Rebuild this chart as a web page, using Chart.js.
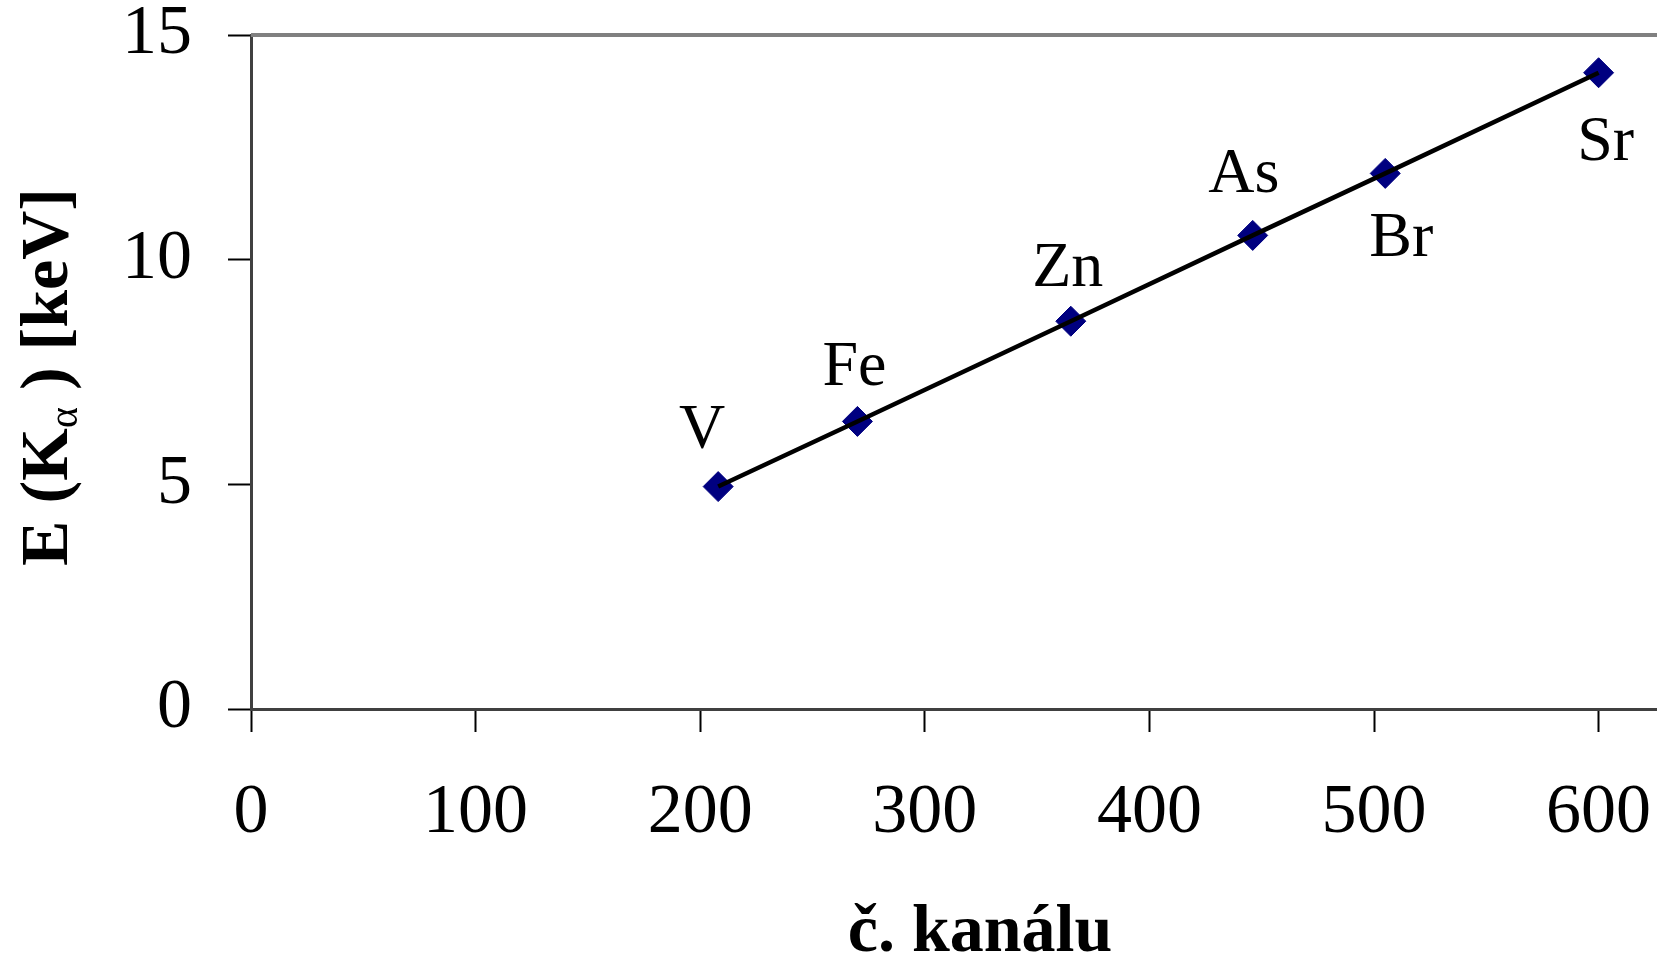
<!DOCTYPE html>
<html>
<head>
<meta charset="utf-8">
<script src="https://cdn.jsdelivr.net/npm/chart.js@4/dist/chart.umd.min.js"></script>
<style>
    body { margin: 0; background: #fff; overflow: hidden; }
    canvas { display: block; }
</style>
</head>
<body>
<canvas id="myChart" width="1657" height="957"></canvas>
<script>
// data
const elements = ['V', 'Fe', 'Zn', 'As', 'Br', 'Sr'];
const channels = [208, 270, 365, 446, 505, 600];
const energies = [4.95, 6.40, 8.63, 10.54, 11.92, 14.16];
const xTicks = [0, 100, 200, 300, 400, 500, 600];
const yTicks = [0, 5, 10, 15];

const xTitle = 'č. kanálu';
const serif = "'Liberation Serif', 'Times New Roman', serif";

// label offsets from each point (px), element label baseline
const labelOffsets = [[-16, -39], [-3, -36], [-3, -35], [-9, -43], [16, 83], [7, 87]];

const points = channels.map((x, i) => ({ x: x, y: energies[i] }));

// element names next to the markers
const pointLabels = {
    id: 'pointLabels',
    afterDatasetsDraw(chart) {
        const ctx = chart.ctx;
        const xs = chart.scales.x, ys = chart.scales.y;
        ctx.save();
        ctx.font = '64px ' + serif;
        ctx.fillStyle = '#000';
        ctx.textAlign = 'center';
        ctx.textBaseline = 'alphabetic';
        for (let i = 0; i < elements.length; i++) {
            const px = xs.getPixelForValue(channels[i]);
            const py = ys.getPixelForValue(energies[i]);
            ctx.fillText(elements[i], px + labelOffsets[i][0], py + labelOffsets[i][1]);
        }
        ctx.restore();
    }
};

// top border of the plot area + axis titles (y one has a subscript alpha)
const frameAndTitles = {
    id: 'frameAndTitles',
    beforeDatasetsDraw(chart) {
        const ctx = chart.ctx;
        const a = chart.chartArea;
        ctx.save();
        ctx.strokeStyle = '#808080';
        ctx.lineWidth = 4;
        ctx.beginPath();
        ctx.moveTo(a.left, a.top);
        ctx.lineTo(a.right, a.top);
        ctx.stroke();
        ctx.restore();
    },
    afterDraw(chart) {
        const ctx = chart.ctx;
        const a = chart.chartArea;
        ctx.save();
        ctx.fillStyle = '#000';
        ctx.textBaseline = 'alphabetic';

        // x title
        ctx.font = 'bold 68px ' + serif;
        ctx.textAlign = 'center';
        ctx.fillText(xTitle, 980, 951);

        // y title, rotated
        const parts = [
            { t: 'E (K', f: 'bold 68px ' + serif, dy: 0 },
            { t: 'α', f: '40px ' + serif, dy: 10 },
            { t: ' ) [keV]', f: 'bold 68px ' + serif, dy: 0 }
        ];
        ctx.textAlign = 'left';
        let total = 0;
        parts.forEach(p => { ctx.font = p.f; p.w = ctx.measureText(p.t).width; total += p.w; });
        ctx.translate(67, (a.top + a.bottom) / 2 + 5);
        ctx.rotate(-Math.PI / 2);
        let x = -total / 2;
        parts.forEach(p => {
            ctx.font = p.f;
            ctx.fillText(p.t, x, p.dy);
            x += p.w;
        });
        ctx.restore();
    }
};

const config = {
    type: 'scatter',
    data: {
        datasets: [
            {
                // trend line on top of the markers
                data: points,
                showLine: true,
                borderColor: '#000',
                borderWidth: 4.5,
                pointRadius: 0,
                order: 0
            },
            {
                data: points,
                pointStyle: 'rectRot',
                pointRadius: 15,
                pointBackgroundColor: '#000080',
                pointBorderColor: '#000080',
                pointBorderWidth: 1,
                order: 1
            }
        ]
    },
    options: {
        responsive: false,
        animation: false,
        layout: { autoPadding: false, padding: { top: 35, right: 0, left: 0, bottom: 0 } },
        plugins: { legend: { display: false }, tooltip: { enabled: false } },
        scales: {
            x: {
                type: 'linear',
                min: 0,
                max: 626,
                afterBuildTicks(axis) { axis.ticks = xTicks.map(v => ({ value: v })); },
                afterFit(axis) {
                    axis.height = 248;
                    axis.paddingLeft = 0;
                    axis.paddingRight = 0;
                },
                grid: { drawOnChartArea: false, drawTicks: true, tickLength: 23, tickColor: '#000', tickWidth: 2 },
                border: { color: '#404040', width: 3 },
                ticks: { color: '#000', padding: 40, maxRotation: 0, font: { family: serif, size: 70 } }
            },
            y: {
                type: 'linear',
                min: 0,
                max: 15,
                afterBuildTicks(axis) { axis.ticks = yTicks.map(v => ({ value: v })); },
                afterFit(axis) {
                    axis.width = 251;
                    axis.paddingTop = 0;
                    axis.paddingBottom = 0;
                },
                grid: { drawOnChartArea: false, drawTicks: true, tickLength: 23, tickColor: '#000', tickWidth: 2 },
                border: { color: '#404040', width: 3 },
                ticks: { color: '#000', padding: 36, font: { family: serif, size: 70 } }
            }
        }
    },
    plugins: [frameAndTitles, pointLabels]
};

const myChart = new Chart(document.getElementById('myChart'), config);
</script>
</body>
</html>
